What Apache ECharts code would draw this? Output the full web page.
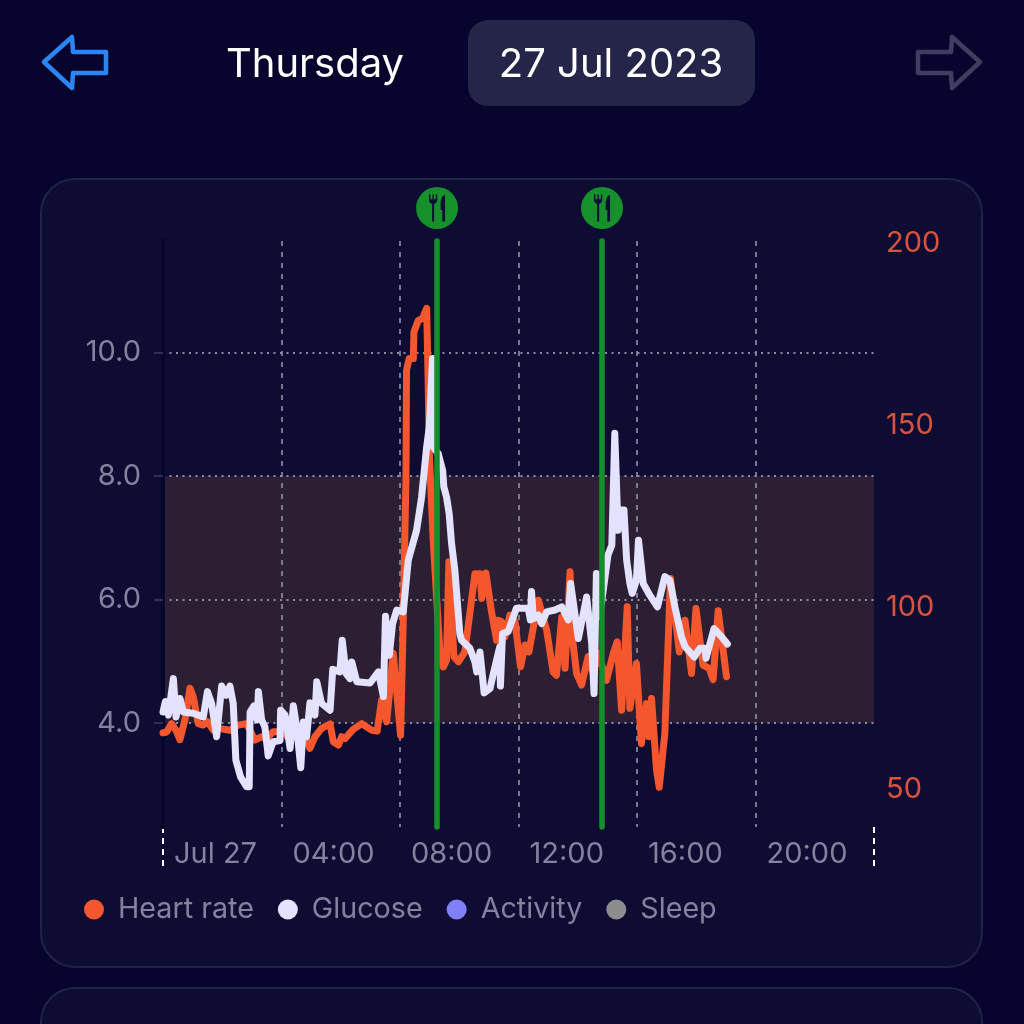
<!DOCTYPE html>
<html>
<head>
<meta charset="utf-8">
<style>
  html, body { margin: 0; padding: 0; background: #07052e; }
  #chart { width: 1024px; height: 1024px; }
</style>
<script src="https://cdn.jsdelivr.net/npm/echarts@6/dist/echarts.min.js"></script>
</head>
<body>
<div id="chart"></div>
<script>
// hours since midnight
var hrTimes = [0, .12, .29, .45, .57, .74, .91, 1.02, 1.19, 1.36, 1.5, 1.7, 1.87, 2.26, 2.54, 2.82, 3.1, 3.33, 3.5, 3.72, 4.06, 4.29, 4.51, 4.79, 4.96, 5.13, 5.35, 5.64, 5.75, 5.92, 6.03, 6.14, 6.42, 6.71, 7.04, 7.23, 7.38, 7.55, 7.77, 8.02, 8.11, 8.2, 8.22, 8.31, 8.45, 8.47, 8.62, 8.76, 8.9, 8.95, 8.99, 9.12, 9.35, 9.46, 9.57, 9.65, 9.82, 9.97, 10.19, 10.53, 10.7, 10.76, 10.9, 11.09, 11.2, 11.26, 11.31, 11.43, 11.54, 11.71, 11.88, 12.07, 12.22, 12.35, 12.67, 12.95, 13.17, 13.28, 13.46, 13.57, 13.74, 13.83, 13.96, 14.13, 14.35, 14.52, 14.69, 14.97, 15.2, 15.33, 15.48, 15.67, 15.76, 15.98, 16.15, 16.32, 16.41, 16.49, 16.66, 16.75, 16.94, 17.13, 17.43, 17.62, 17.84, 17.99, 18.23, 18.44, 18.57, 18.74, 19.02];
var hrValues = [65.5, 65.7, 68, 66, 63.6, 69, 77.7, 75.4, 68, 67.6, 68.5, 66.2, 66.7, 66.2, 67.6, 68, 63.5, 64.4, 63.9, 65.8, 65.8, 63.5, 65.3, 64.4, 61.2, 64.4, 66.7, 67.9, 63, 62.1, 64.4, 63.9, 66.4, 68, 66.2, 66, 74.5, 68.5, 87.3, 64.8, 96.4, 134.9, 165.1, 168.3, 168.3, 175.6, 178.8, 179.3, 182.1, 162.4, 142.2, 118.4, 87.3, 83.6, 85.4, 112.5, 86.4, 85, 87.7, 109.2, 109.2, 102.4, 109.4, 98.7, 93.7, 90.9, 96.4, 96, 91.8, 97.8, 96, 83.6, 89.6, 87.7, 101.9, 93.7, 82.2, 81.3, 97.3, 83.2, 109.7, 90.9, 81.8, 78.6, 86.4, 82, 87.3, 79.9, 87.3, 90.5, 71.7, 100.1, 72.2, 84.5, 62.5, 73.5, 64.4, 74.9, 55.2, 50.5, 65.3, 107.9, 87.7, 96.4, 81.8, 99.6, 84.1, 83.2, 80.1, 99, 80.9];

var glucoseTimes = [0, .08, .18, .35, .44, .57, .69, 1.02, 1.36, 1.5, 1.64, 1.81, 1.98, 2.13, 2.26, 2.37, 2.46, 2.62, 2.82, 2.91, 2.94, 3.07, 3.18, 3.22, 3.33, 3.44, 3.55, 3.72, 3.95, 3.97, 4.12, 4.29, 4.4, 4.51, 4.65, 4.74, 4.85, 4.96, 5.13, 5.19, 5.35, 5.64, 5.73, 5.97, 6.05, 6.18, 6.31, 6.37, 6.54, 6.99, 7.27, 7.44, 7.51, 7.64, 7.75, 7.89, 8.11, 8.28, 8.56, 8.73, 8.9, 8.99, 9.1, 9.12, 9.29, 9.44, 9.48, 9.57, 9.66, 9.74, 9.85, 10.02, 10.08, 10.36, 10.53, 10.59, 10.7, 10.84, 11.04, 11.15, 11.37, 11.39, 11.46, 11.65, 11.93, 12.33, 12.4, 12.44, 12.5, 12.67, 12.78, 12.95, 13.23, 13.46, 13.68, 13.76, 14.02, 14.3, 14.47, 14.55, 14.63, 14.74, 15.02, 15.15, 15.25, 15.36, 15.46, 15.56, 15.65, 15.76, 15.84, 15.98, 16.05, 16.21, 16.43, 16.69, 16.94, 17.11, 17.28, 17.5, 17.62, 17.93, 18.12, 18.29, 18.33, 18.6, 18.85, 19.05];
var glucoseValues = [4.18, 4.35, 4.13, 4.72, 4.1, 4.4, 4.18, 4.16, 4.1, 4.51, 4.32, 3.78, 4.6, 4.45, 4.6, 4.32, 3.4, 3.13, 2.97, 2.97, 4.18, 4.28, 4.05, 4.51, 4.05, 3.94, 3.47, 3.7, 3.72, 4.21, 4.13, 3.59, 4.28, 3.94, 3.28, 4.02, 3.78, 4.33, 4.13, 4.67, 4.32, 4.21, 4.87, 4.83, 5.34, 4.8, 4.72, 4.99, 4.67, 4.65, 4.83, 4.43, 5.73, 5.1, 5.61, 5.83, 5.8, 6.64, 7.12, 7.66, 8.47, 8.8, 9.9, 8.47, 8.36, 8.09, 7.82, 7.66, 7.39, 6.91, 6.48, 5.45, 5.34, 5.21, 4.99, 4.83, 5.15, 4.49, 4.56, 4.8, 5.24, 4.6, 5.45, 5.48, 5.86, 5.86, 5.67, 6.13, 5.69, 5.75, 5.61, 5.8, 5.83, 5.88, 5.67, 6.26, 5.37, 6.04, 5.29, 4.48, 6.42, 5.72, 6.72, 6.88, 8.69, 7.12, 7.45, 7.45, 6.64, 6.26, 6.1, 6.31, 6.96, 6.26, 6.07, 5.88, 6.37, 6.31, 5.88, 5.4, 5.24, 5.07, 5.21, 5.21, 5.05, 5.53, 5.4, 5.28];

var mealTimes = [9.25, 14.82];
var targetBand = [4, 8];
var glucoseTicks = [4, 6, 8, 10];
var hrTicks = [50, 100, 150, 200];
var hourTicks = [0, 4, 8, 12, 16, 20, 24];
var hourLabels = ['Jul 27', '04:00', '08:00', '12:00', '16:00', '20:00', ''];
var legendNames = ['Heart rate', 'Glucose', 'Activity', 'Sleep'];

var FONT = 'Inter';
var MUTED = '#83829f';
var CARD = '#0f0c33';

// icon outlines, 16x27 box
var forkShape = [[0, 0], [1.4, 0], [1.4, 4.8], [3.4, 4.8], [3.4, 0], [4.8, 0], [4.8, 4.8], [6.8, 4.8], [6.8, 0], [8.2, 0], [8.2, 6.5], [6.5, 9], [5.1, 9.3], [5.1, 27], [3.1, 27], [3.1, 9.3], [1.7, 9], [0, 6.5]];
var knifeShape = [[16, 0], [16, 27], [13.3, 27], [13.3, 15.6], [11.6, 15.6], [11.6, 7], [13, 2.5]];

function pairs(xs, ys) {
  var out = [];
  for (var i = 0; i < xs.length; i++) out.push([xs[i], ys[i]]);
  return out;
}

var chart = echarts.init(document.getElementById('chart'), null, { renderer: 'canvas' });

var baseGraphic = [
  // cards
  { type: 'rect', z: -10, shape: { x: 41, y: 179, width: 941, height: 788, r: 34 }, style: { fill: CARD, stroke: '#22214a', lineWidth: 2 } },
  { type: 'rect', z: -10, shape: { x: 41, y: 988, width: 941, height: 100, r: 34 }, style: { fill: CARD, stroke: '#22214a', lineWidth: 2 } },
  // header
  { type: 'rect', z: -5, shape: { x: 468, y: 20, width: 287, height: 86, r: 20 }, style: { fill: '#25254a' } },
  { type: 'text', z: 10, style: { x: 315, y: 65, text: 'Thursday', fill: '#ffffff', font: '40px Inter', align: 'center', verticalAlign: 'middle' } },
  { type: 'text', z: 10, style: { x: 611, y: 65, text: '27 Jul 2023', fill: '#ffffff', font: '40px Inter', align: 'center', verticalAlign: 'middle' } },
  { type: 'polygon', z: 10, shape: { points: [[44, 62], [72, 37], [73, 52], [106, 52], [106, 73], [73, 73], [72, 88]] }, style: { fill: 'none', stroke: '#2a85f5', lineWidth: 4.5, lineJoin: 'round' } },
  { type: 'polygon', z: 10, shape: { points: [[980, 62], [952, 37], [951, 52], [918, 52], [918, 73], [951, 73], [952, 88]] }, style: { fill: 'none', stroke: '#3f3e60', lineWidth: 4.5, lineJoin: 'round' } }
];

var option = {
  animation: false,
  backgroundColor: '#07052e',
  textStyle: { fontFamily: FONT },
  graphic: baseGraphic,
  legend: {
    data: legendNames,
    left: 79,
    top: 890,
    icon: 'circle',
    itemWidth: 20,
    itemHeight: 20,
    itemGap: 24,
    selectedMode: false,
    textStyle: { color: MUTED, fontSize: 28.7, fontFamily: FONT, padding: [0, 0, 0, 9] }
  },
  grid: { left: 163, right: 150, top: 241, height: 586 },
  xAxis: [
    {
      type: 'value',
      z: 2,
      min: 0,
      max: 24,
      interval: 4,
      axisLine: { show: false },
      axisTick: { show: false },
      splitLine: { show: true, showMinLine: false, showMaxLine: false, lineStyle: { color: '#9a99b0', type: [5, 6], width: 1.5 } },
      axisLabel: {
        align: 'left',
        margin: 13,
        padding: [0, 0, 0, 11],
        showMinLabel: true,
        showMaxLabel: false,
        fontFamily: FONT,
        fontSize: 29,
        color: function (v) { return v === 0 ? '#ffffff' : MUTED; },
        formatter: function (v) { return hourLabels[hourTicks.indexOf(v)]; }
      }
    },
    {
      // only carries the white dashes under both ends of the day
      type: 'value',
      position: 'bottom',
      min: 0,
      max: 24,
      axisLine: { show: false },
      axisLabel: { show: false },
      splitLine: { show: false },
      axisTick: { show: true, customValues: [0, 24], length: 40, lineStyle: { color: '#ffffff', type: [6, 5], width: 2 } }
    }
  ],
  yAxis: [
    {
      type: 'value',
      z: 3,
      min: 2.32,
      max: 11.8,
      axisLine: { show: true, lineStyle: { color: '#07052e', width: 4 } },
      axisTick: { show: true, customValues: glucoseTicks, length: 9, lineStyle: { color: '#3e3d5e', width: 1.5 } },
      splitLine: { show: true, lineStyle: { color: '#8d8ca6', type: [2, 4.5], width: 2 } },
      axisLabel: {
        customValues: glucoseTicks,
        margin: 22,
        padding: [2, 0, 0, 0],
        fontFamily: FONT,
        fontSize: 29,
        color: MUTED,
        formatter: function (v) { return v.toFixed(1); }
      }
    },
    {
      type: 'value',
      z: 3,
      position: 'right',
      min: 39.6,
      max: 200.6,
      axisLine: { show: true, lineStyle: { color: '#07052e', width: 4 } },
      axisTick: { show: false, customValues: hrTicks },
      splitLine: { show: false },
      axisLabel: {
        customValues: hrTicks,
        margin: 12,
        padding: [4, 0, 0, 0],
        fontFamily: FONT,
        fontSize: 29,
        color: '#d9533c'
      }
    }
  ],
  series: [
    {
      name: 'Heart rate',
      type: 'line',
      yAxisIndex: 1,
      data: pairs(hrTimes, hrValues),
      showSymbol: false,
      symbol: 'circle',
      z: 4,
      itemStyle: { color: '#f4572d' },
      lineStyle: { color: '#f4572d', width: 7, join: 'round', cap: 'round' }
    },
    {
      name: 'Glucose',
      type: 'line',
      data: pairs(glucoseTimes, glucoseValues),
      showSymbol: false,
      symbol: 'circle',
      z: 5,
      itemStyle: { color: '#e3e2ff' },
      lineStyle: { color: '#e3e2ff', width: 7, join: 'round', cap: 'round' },
      markArea: {
        silent: true,
        itemStyle: { color: '#2c1f33' },
        data: [[{ yAxis: targetBand[0] }, { yAxis: targetBand[1] }]]
      }
    },
    { name: 'Activity', type: 'line', data: [], itemStyle: { color: '#8080f8' } },
    { name: 'Sleep', type: 'line', data: [], itemStyle: { color: '#8d8d90' } },
    {
      name: 'Meals',
      type: 'line',
      data: [],
      z: 7,
      markLine: {
        silent: true,
        z: 7,
        symbol: 'none',
        label: { show: false },
        lineStyle: { color: '#148f2b', width: 5.5, type: 'solid', cap: 'round' },
        data: mealTimes.map(function (t) { return { xAxis: t }; })
      }
    }
  ]
};

chart.setOption(option);

function moved(points, dx, dy) {
  return points.map(function (p) { return [p[0] + dx, p[1] + dy]; });
}

// meal badges sit above the plot, so they go in as graphics at the axis position of each meal
var badges = [];
mealTimes.forEach(function (t) {
  var px = chart.convertToPixel({ xAxisIndex: 0 }, t);
  badges.push({ type: 'circle', z: 10, shape: { cx: px, cy: 208, r: 21 }, style: { fill: '#15902b' } });
  badges.push({ type: 'polygon', z: 11, shape: { points: moved(forkShape, px - 8, 194.5) }, style: { fill: '#0f0d35' } });
  badges.push({ type: 'polygon', z: 11, shape: { points: moved(knifeShape, px - 8, 194.5) }, style: { fill: '#0f0d35' } });
});
chart.setOption({ graphic: baseGraphic.concat(badges) });
</script>
</body>
</html>
